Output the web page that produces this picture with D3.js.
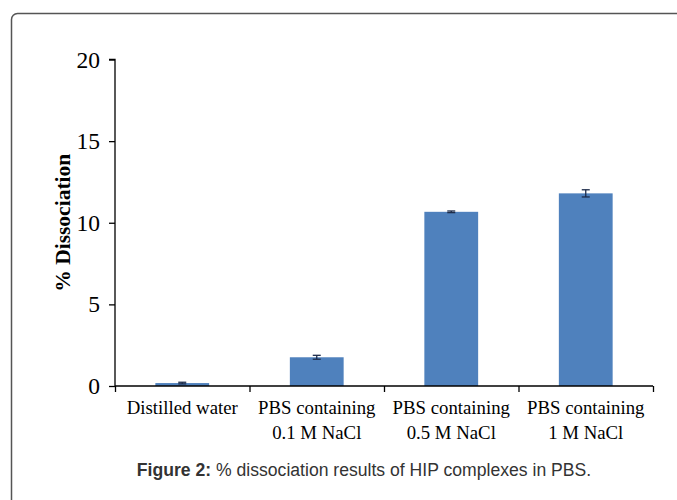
<!DOCTYPE html>
<html>
<head>
<meta charset="utf-8">
<script src="https://cdn.jsdelivr.net/npm/d3@7"></script>
<style>
  html, body { margin: 0; padding: 0; background: #fff; }
  svg { display: block; }
</style>
</head>
<body>
<svg id="chart" width="677" height="500"></svg>
<script>
const categories = [
  ["Distilled water"],
  ["PBS containing", "0.1 M NaCl"],
  ["PBS containing", "0.5 M NaCl"],
  ["PBS containing", "1 M NaCl"]
];
const values = [0.18, 1.76, 10.67, 11.8];
const errors = [0.05, 0.12, 0.05, 0.22];
const yTicks = [0, 5, 10, 15, 20];
const yLabel = "% Dissociation";
const captionBold = "Figure 2:";
const captionText = " % dissociation results of HIP complexes in PBS.";

(function () {
const svg = d3.select("#chart");

// frame
svg.append("rect")
  .attr("x", 11.5).attr("y", 13.5)
  .attr("width", 700).attr("height", 520)
  .attr("rx", 6).attr("ry", 6)
  .attr("fill", "none").attr("stroke", "#555").attr("stroke-width", 1.5);

const mLeft = 115, mRight = 653, mTop = 59.5, mBottom = 386;
const idx = categories.map((d, i) => i);
const x = d3.scaleBand().domain(idx).range([mLeft, mRight]).paddingInner(0.6).paddingOuter(0.3);
const y = d3.scaleLinear().domain([0, 20]).range([mBottom, mTop]);

const serif = "'Liberation Serif', 'Times New Roman', serif";

// y axis
const yAxis = d3.axisLeft(y).tickValues(yTicks).tickSize(6).tickPadding(9);
const gy = svg.append("g").attr("transform", `translate(${mLeft},0)`).call(yAxis);
gy.select(".domain").attr("stroke", "#000").attr("stroke-width", 1.3)
  .attr("d", `M-6,${mTop}H0V${mBottom}`);
gy.selectAll(".tick line").attr("stroke", "#000").attr("stroke-width", 1.3);
gy.selectAll(".tick text").attr("font-family", serif).attr("font-size", 23.5).attr("fill", "#000");

// bars
svg.append("g").selectAll("rect").data(values).join("rect")
  .attr("x", (d, i) => x(i))
  .attr("width", x.bandwidth())
  .attr("y", d => y(d))
  .attr("height", d => mBottom - y(d))
  .attr("fill", "#4f81bd");

// error bars
const eg = svg.append("g").attr("stroke", "#1c2b4a").attr("stroke-width", 1.3);
values.forEach((v, i) => {
  const cx = x(i) + x.bandwidth() / 2;
  eg.append("line").attr("x1", cx).attr("x2", cx).attr("y1", y(v + errors[i])).attr("y2", y(v - errors[i]));
  eg.append("line").attr("x1", cx - 4).attr("x2", cx + 4).attr("y1", y(v + errors[i])).attr("y2", y(v + errors[i]));
  eg.append("line").attr("x1", cx - 4).attr("x2", cx + 4).attr("y1", y(v - errors[i])).attr("y2", y(v - errors[i]));
});

// x axis (category boundaries ticks)
const xb = d3.scaleLinear().domain([0, categories.length]).range([mLeft, mRight]);
const xAxis = d3.axisBottom(xb).tickValues(d3.range(categories.length + 1)).tickSize(6).tickFormat("");
const gx = svg.append("g").attr("transform", `translate(0,${mBottom})`).call(xAxis);
gx.select(".domain").attr("stroke", "#000").attr("stroke-width", 1.3).attr("d", `M${mLeft},0H${mRight}`);
gx.selectAll(".tick line").attr("stroke", "#000").attr("stroke-width", 1.3);

// category labels
const lab = svg.append("g");
categories.forEach((lines, i) => {
  const cx = x(i) + x.bandwidth() / 2;
  const t = lab.append("text").attr("x", cx).attr("y", 414)
    .attr("text-anchor", "middle").attr("font-family", serif).attr("font-size", 18.8).attr("fill", "#000");
  lines.forEach((ln, j) => {
    t.append("tspan").attr("x", cx).attr("dy", j === 0 ? 0 : 25).text(ln);
  });
});

// y label
svg.append("text")
  .attr("transform", `translate(70,${(mTop + mBottom) / 2}) rotate(-90)`)
  .attr("text-anchor", "middle")
  .attr("font-family", serif).attr("font-weight", "bold").attr("font-size", 21.5)
  .attr("fill", "#000")
  .text(yLabel);

// caption
const cap = svg.append("text").attr("x", 364).attr("y", 476)
  .attr("text-anchor", "middle")
  .attr("font-family", "'Liberation Sans', Arial, sans-serif").attr("font-size", 17.6).attr("fill", "#333");
cap.append("tspan").attr("font-weight", "bold").text(captionBold);
cap.append("tspan").text(captionText);
})();
</script>
</body>
</html>
